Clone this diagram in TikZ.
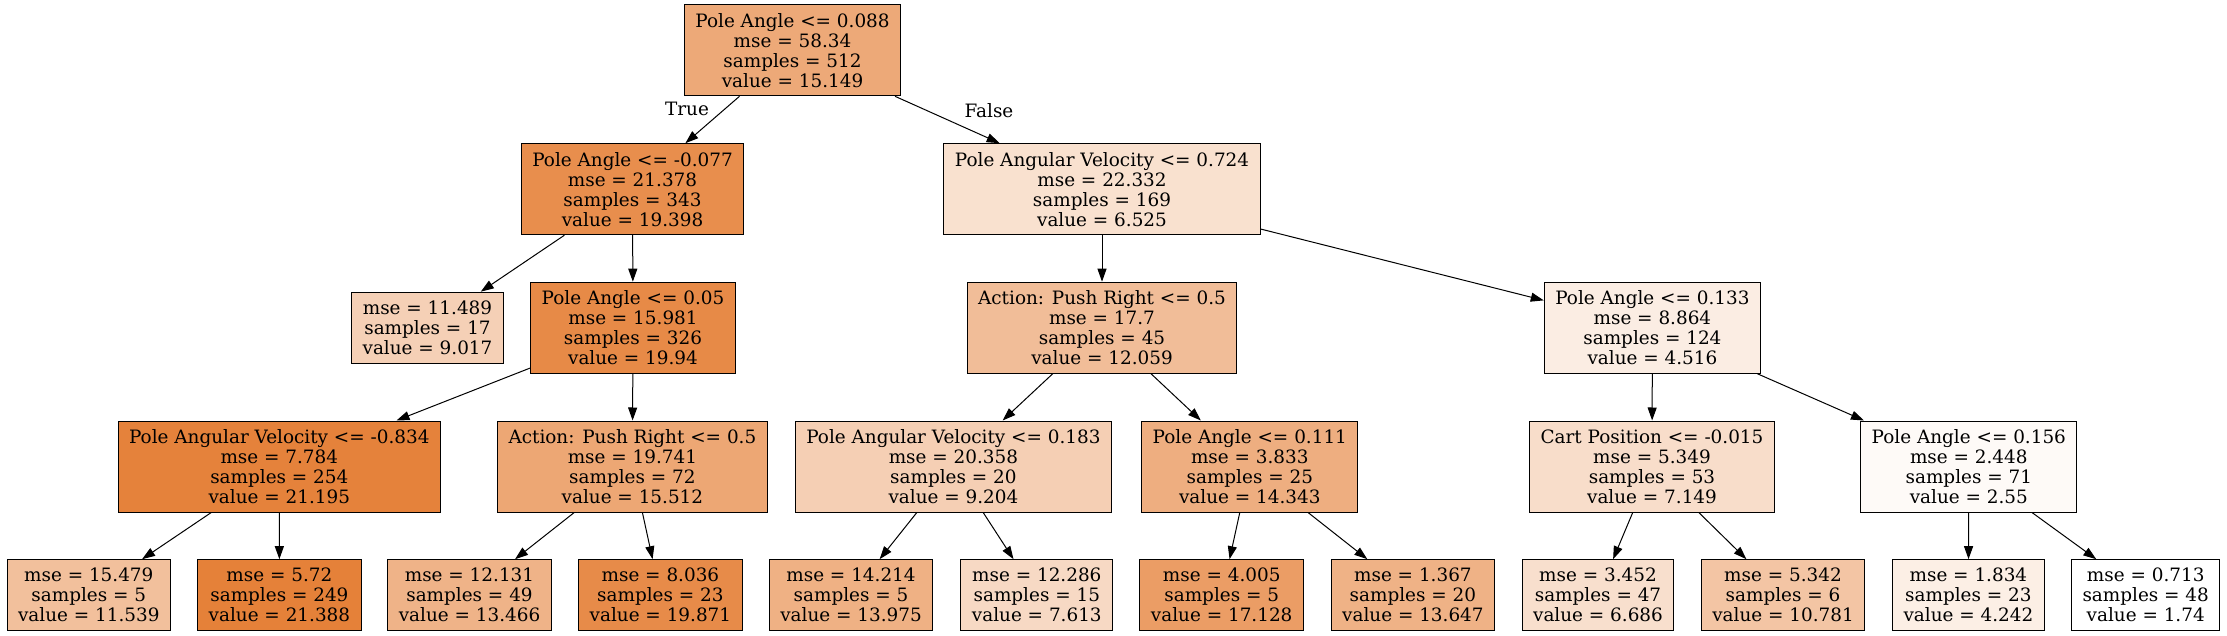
\documentclass[tikz,border=0pt]{standalone}
\usepackage{fontspec}
\setmainfont{DejaVu Serif}
\usetikzlibrary{arrows.meta}
\definecolor{treeorange}{RGB}{229,129,57}
\tikzset{
  split/.style={draw, line width=1pt, minimum height=91pt, inner xsep=11pt,
    align=center, font=\fontsize{18.4}{20}\selectfont},
  leaf/.style={split, minimum height=71pt},
}
\begin{document}
\begin{tikzpicture}[x=1pt, y=-1pt]
  \useasboundingbox (0,0) rectangle (2227,636);
  % splits
  \node[split, fill=treeorange!68!white] (0) at (792.5, 50.3) {Pole Angle <= 0.088\\mse = 58.34\\samples = 512\\value = 15.149};
  \node[split, fill=treeorange!90!white] (1) at (632.5, 189.2) {Pole Angle <= -0.077\\mse = 21.378\\samples = 343\\value = 19.398};
  \node[leaf, fill=treeorange!37!white] (2) at (427.5, 327.7) {mse = 11.489\\samples = 17\\value = 9.017};
  \node[split, fill=treeorange!93!white] (3) at (633, 327.7) {Pole Angle <= 0.05\\mse = 15.981\\samples = 326\\value = 19.94};
  \node[split, fill=treeorange!99!white] (4) at (279.3, 466.5) {Pole Angular Velocity <= -0.834\\mse = 7.784\\samples = 254\\value = 21.195};
  \node[leaf, fill=treeorange!50!white] (5) at (88.8, 595.2) {mse = 15.479\\samples = 5\\value = 11.539};
  \node[leaf, fill=treeorange] (6) at (279.4, 595.2) {mse = 5.72\\samples = 249\\value = 21.388};
  \node[split, fill=treeorange!70!white] (7) at (632.4, 466.5) {Action: Push Right <= 0.5\\mse = 19.741\\samples = 72\\value = 15.512};
  \node[leaf, fill=treeorange!60!white] (8) at (469.5, 595.2) {mse = 12.131\\samples = 49\\value = 13.466};
  \node[leaf, fill=treeorange!92!white] (9) at (660.4, 595.2) {mse = 8.036\\samples = 23\\value = 19.871};
  \node[split, fill=treeorange!24!white] (10) at (1102, 189.2) {Pole Angular Velocity <= 0.724\\mse = 22.332\\samples = 169\\value = 6.525};
  \node[split, fill=treeorange!52!white] (11) at (1102, 327.7) {Action: Push Right <= 0.5\\mse = 17.7\\samples = 45\\value = 12.059};
  \node[split, fill=treeorange!38!white] (12) at (953.4, 466.5) {Pole Angular Velocity <= 0.183\\mse = 20.358\\samples = 20\\value = 9.204};
  \node[leaf, fill=treeorange!62!white] (13) at (851, 595.2) {mse = 14.214\\samples = 5\\value = 13.975};
  \node[leaf, fill=treeorange!30!white] (14) at (1036.8, 595.2) {mse = 12.286\\samples = 15\\value = 7.613};
  \node[split, fill=treeorange!64!white] (15) at (1249.8, 466.5) {Pole Angle <= 0.111\\mse = 3.833\\samples = 25\\value = 14.343};
  \node[leaf, fill=treeorange!78!white] (16) at (1221.7, 595.2) {mse = 4.005\\samples = 5\\value = 17.128};
  \node[leaf, fill=treeorange!61!white] (17) at (1412.9, 595.2) {mse = 1.367\\samples = 20\\value = 13.647};
  \node[split, fill=treeorange!14!white] (18) at (1652.4, 327.7) {Pole Angle <= 0.133\\mse = 8.864\\samples = 124\\value = 4.516};
  \node[split, fill=treeorange!27!white] (19) at (1652, 466.5) {Cart Position <= -0.015\\mse = 5.349\\samples = 53\\value = 7.149};
  \node[leaf, fill=treeorange!25!white] (20) at (1598, 595.2) {mse = 3.452\\samples = 47\\value = 6.686};
  \node[leaf, fill=treeorange!46!white] (21) at (1783, 595.2) {mse = 5.342\\samples = 6\\value = 10.781};
  \node[split, fill=treeorange!4!white] (22) at (1968.8, 466.5) {Pole Angle <= 0.156\\mse = 2.448\\samples = 71\\value = 2.55};
  \node[leaf, fill=treeorange!13!white] (23) at (1968.4, 595.2) {mse = 1.834\\samples = 23\\value = 4.242};
  \node[leaf, fill=white] (24) at (2145.7, 595.2) {mse = 0.713\\samples = 48\\value = 1.74};
  % branch labels
  \node[font=\fontsize{18.4}{20}\selectfont] (t) at (687, 109) {True};
  \node[font=\fontsize{18.4}{20}\selectfont] (f) at (989, 111) {False};
  \draw[-{Triangle[length=13pt, width=9pt]}, line width=1pt]
  (0) edge (1)
  (0) edge (10)
  (1) edge (2)
  (1) edge (3)
  (3) edge (4)
  (3) edge (7)
  (4) edge (5)
  (4) edge (6)
  (7) edge (8)
  (7) edge (9)
  (10) edge (11)
  (10) edge (18)
  (11) edge (12)
  (11) edge (15)
  (12) edge (13)
  (12) edge (14)
  (15) edge (16)
  (15) edge (17)
  (18) edge (19)
  (18) edge (22)
  (19) edge (20)
  (19) edge (21)
  (22) edge (23)
  (22) edge (24);
\end{tikzpicture}
\end{document}
